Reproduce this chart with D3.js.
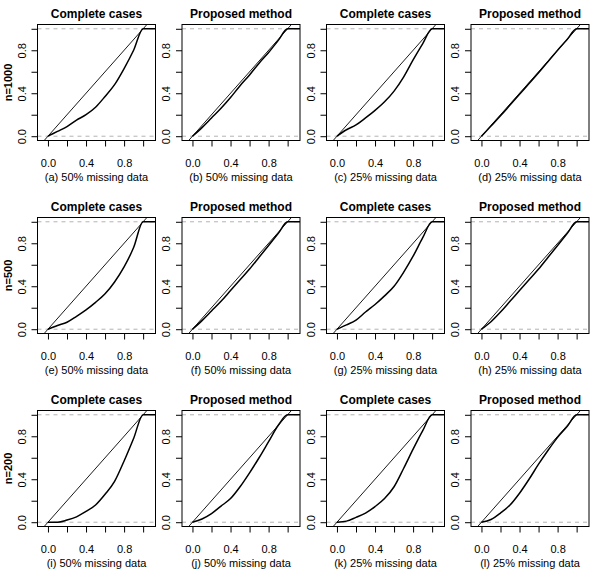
<!DOCTYPE html>
<meta charset="utf-8" />
<style>
	body { margin: 0; background: #fff; }
	text { font-family: 'Liberation Sans', Arial, sans-serif; fill: #000; }
</style>
<svg width="598" height="580"></svg>
<script src="https://cdn.jsdelivr.net/npm/d3@7"></script>
<script>
	// grid of x values the curves were read at
	var xs = [0, 0.1, 0.2, 0.3, 0.4, 0.5, 0.6, 0.7, 0.8, 0.9, 1];

	var colTitles = ['Complete cases', 'Proposed method', 'Complete cases', 'Proposed method'];
	var colMissing = ['50%', '50%', '25%', '25%'];
	var rowLabels = ['n=1000', 'n=500', 'n=200'];
	var letters = ['a', 'b', 'c', 'd', 'e', 'f', 'g', 'h', 'i', 'j', 'k', 'l'];
	var ticks = [0, 0.2, 0.4, 0.6, 0.8, 1];
	var tickLabels = ['0.0', '', '0.4', '', '0.8', ''];

	// ecdf values, one array per panel (row by row)
	var curveA = [0, 0.045, 0.09, 0.15, 0.2, 0.27, 0.37, 0.48, 0.63, 0.8, 1];
	var curveB = [0, 0.08, 0.17, 0.26, 0.36, 0.47, 0.57, 0.68, 0.78, 0.89, 1];
	var curveC = [0, 0.06, 0.105, 0.17, 0.24, 0.32, 0.42, 0.55, 0.71, 0.86, 1];
	var curveD = [0, 0.095, 0.19, 0.29, 0.39, 0.49, 0.59, 0.695, 0.8, 0.9, 1];
	var curveE = [0, 0.035, 0.065, 0.12, 0.18, 0.25, 0.33, 0.44, 0.58, 0.76, 1];
	var curveF = [0, 0.08, 0.17, 0.26, 0.36, 0.46, 0.56, 0.67, 0.78, 0.89, 1];
	var curveG = [0, 0.04, 0.085, 0.16, 0.23, 0.31, 0.4, 0.53, 0.68, 0.85, 1];
	var curveH = [0, 0.07, 0.16, 0.26, 0.36, 0.46, 0.56, 0.67, 0.78, 0.89, 1];
	var curveI = [0, 0, 0.02, 0.05, 0.1, 0.16, 0.26, 0.38, 0.57, 0.78, 1];
	var curveJ = [0, 0.03, 0.08, 0.15, 0.22, 0.33, 0.46, 0.6, 0.75, 0.9, 1];
	var curveK = [0, 0.01, 0.045, 0.085, 0.145, 0.22, 0.33, 0.5, 0.68, 0.85, 1];
	var curveL = [0, 0.025, 0.085, 0.16, 0.27, 0.4, 0.54, 0.67, 0.79, 0.89, 1];
	var curves = [curveA, curveB, curveC, curveD, curveE, curveF, curveG, curveH, curveI, curveJ, curveK, curveL];

	var colLeft = [37.5, 182, 326.5, 471],
		rowTop = [24.5, 217.5, 410.5],
		pw = 118,
		ph = 116;

	var x = d3.scaleLinear().domain([-0.11, 1.13]).range([0, pw]);
	var y = d3.scaleLinear().domain([-0.04, 1.04]).range([ph, 0]);

	var line = d3
		.line()
		.x(d => x(d[0]))
		.y(d => y(d[1]))
		.curve(d3.curveMonotoneX);

	var svg = d3.select('svg');

	svg.append('defs')
		.append('clipPath')
		.attr('id', 'clip')
		.append('rect')
		.attr('width', pw)
		.attr('height', ph);

	curves.forEach((vals, i) => {
		var r = Math.floor(i / 4),
			c = i % 4;
		var g = svg
			.append('g')
			.attr('transform', 'translate(' + colLeft[c] + ',' + rowTop[r] + ')');

		var inner = g.append('g').attr('clip-path', 'url(#clip)');

		// dashed reference lines at 0 and 1
		[0, 1].forEach(h => {
			inner
				.append('line')
				.attr('x1', 0)
				.attr('x2', pw)
				.attr('y1', y(h))
				.attr('y2', y(h))
				.attr('stroke', '#b3b3b3')
				.attr('stroke-dasharray', '4,4');
		});

		// diagonal
		inner
			.append('line')
			.attr('x1', x(-0.2))
			.attr('y1', y(-0.2))
			.attr('x2', x(1.2))
			.attr('y2', y(1.2))
			.attr('stroke', '#000')
			.attr('stroke-width', 0.9);

		var pts = xs.map((v, k) => [v, vals[k]]);
		pts.push([x.domain()[1], 1]);

		inner
			.append('path')
			.datum(pts)
			.attr('d', line)
			.attr('fill', 'none')
			.attr('stroke', '#000')
			.attr('stroke-width', 1.5);

		g.append('rect')
			.attr('width', pw)
			.attr('height', ph)
			.attr('fill', 'none')
			.attr('stroke', '#000');

		var xa = g
			.append('g')
			.attr('transform', 'translate(0,' + ph + ')')
			.call(
				d3.axisBottom(x)
					.tickValues(ticks)
					.tickSize(6)
					.tickFormat((d, k) => tickLabels[k])
			);
		xa.select('.domain').remove();
		xa.selectAll('text').attr('font-size', 11).attr('dy', null).attr('y', 26.5);

		var ya = g.append('g').call(
			d3.axisLeft(y)
				.tickValues(ticks)
				.tickSize(6)
				.tickFormat((d, k) => tickLabels[k])
		);
		ya.select('.domain').remove();
		ya.selectAll('text')
			.attr('font-size', 11)
			.attr('x', null)
			.attr('dy', null)
			.attr('text-anchor', 'middle')
			.attr('transform', 'translate(-12,0) rotate(-90)');

		g.selectAll('.tick text').style('font-family', "'Liberation Sans Narrow', 'Liberation Sans', Arial, sans-serif");

		g.append('text')
			.attr('x', pw / 2)
			.attr('y', -6.5)
			.attr('text-anchor', 'middle')
			.attr('font-size', 12)
			.attr('font-weight', 'bold')
			.text(colTitles[c]);

		g.append('text')
			.attr('x', pw / 2)
			.attr('y', ph + 40)
			.attr('text-anchor', 'middle')
			.attr('font-size', 11)
			.text('(' + letters[i] + ') ' + colMissing[c] + ' missing data');

		if (c === 0) {
			g.append('text')
				.attr('transform', 'translate(-26,' + ph / 2 + ') rotate(-90)')
				.attr('text-anchor', 'middle')
				.attr('font-size', 11)
				.attr('font-weight', 'bold')
				.text(rowLabels[r]);
		}
	});
</script>
